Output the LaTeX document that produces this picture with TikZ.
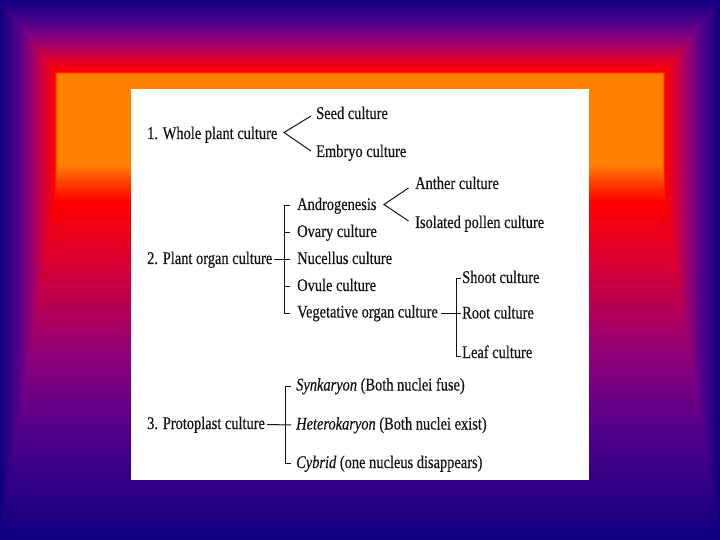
\documentclass[tikz,border=0pt]{standalone}
\usepackage{fontspec}
\setmainfont{Liberation Serif}[FakeStretch=0.81,FakeBold=0.45]
\usetikzlibrary{calc}
\begin{document}
\begin{tikzpicture}[x=1bp,y=-1bp,
  lbl/.style={anchor=base west, inner sep=0pt, text height=9bp, text depth=0pt,
              font=\fontsize{17.8bp}{20bp}\selectfont, text=black!92},
  conn/.style={draw=black!92, line width=1bp}]
\useasboundingbox (0,0) rectangle (720,540);
% ---- background: rectangular gradient ----
\foreach \i in {0,...,90}{
  \pgfmathsetmacro{\s}{\i/90}
  \pgfmathtruncatemacro{\rr}{\s<0.33 ? 15+70*\s/0.33 : (\s<0.55 ? 85+60*(\s-0.33)/0.22 : (\s<0.8 ? 145+70*(\s-0.55)/0.25 : 215+40*(\s-0.8)/0.2))}
  \pgfmathtruncatemacro{\bb}{\s<0.33 ? 128+12*\s/0.33 : (\s<0.55 ? 140-20*(\s-0.33)/0.22 : (\s<0.8 ? 120-65*(\s-0.55)/0.25 : max(0,55-55*(\s-0.8)/0.2)))}
  \definecolor{gc}{RGB}{\rr,0,\bb}
  \fill[gc] (55*\s,72*\s) rectangle (720-55*\s,540-337*\s);
}
\foreach \j in {0,...,24}{
  \pgfmathsetmacro{\u}{\j/24}
  \pgfmathtruncatemacro{\gg}{128*\u}
  \definecolor{ic}{RGB}{255,\gg,0}
  \fill[ic] (55+2*\u,72+2*\u) rectangle (665-2*\u,203-38*\u);
}
\fill[white] (131,89) rectangle (589,480);
% ---- section 1 ----
\node[lbl] (whole)  at (147,139) {1. Whole plant culture};
\node[lbl] (seed)   at (316,119) {Seed culture};
\node[lbl] (embryo) at (316,157) {Embryo culture};
% ---- section 2 ----
\node[lbl] (plant)  at (147,264) {2. Plant organ culture};
\node[lbl] (andro)  at (297,210) {Androgenesis};
\node[lbl] (ovary)  at (297,237) {Ovary culture};
\node[lbl] (nuc)    at (297,264) {Nucellus culture};
\node[lbl] (ovule)  at (297,291) {Ovule culture};
\node[lbl] (veg)    at (297,317.5) {Vegetative organ culture};
\node[lbl] (anther) at (415,189) {Anther culture};
\node[lbl] (pollen) at (415,228) {Isolated pollen culture};
\node[lbl] (shoot)  at (462,283) {Shoot culture};
\node[lbl] (root)   at (462,318.5) {Root culture};
\node[lbl] (leaf)   at (462,358) {Leaf culture};
% ---- section 3 ----
\node[lbl] (proto)  at (147,429) {3. Protoplast culture};
\node[lbl] (syn)    at (296,390.5) {\itshape Synkaryon\/ \upshape(Both nuclei fuse)};
\node[lbl] (het)    at (296,429.5) {\itshape Heterokaryon\/ \upshape(Both nuclei exist)};
\node[lbl] (cyb)    at (296,468) {\itshape Cybrid\/ \upshape(one nucleus disappears)};
% ---- connectors ----
\draw[conn] ([xshift=-5bp,yshift=-1.5bp]seed.west)
   -- ($(seed.west |- whole.east)+(-32bp,2bp)$)
   -- ([xshift=-5bp,yshift=1.5bp]embryo.west);
\draw[conn] ([xshift=-7bp]andro.west) -| ([xshift=-12.5bp]veg.west) -- ([xshift=-7bp]veg.west);
\draw[conn] ([xshift=-12.5bp]ovary.west) -- ([xshift=-7bp]ovary.west);
\draw[conn] ([xshift=-12.5bp]ovule.west) -- ([xshift=-7bp]ovule.west);
\draw[conn] ([xshift=2bp]plant.east) -- ([xshift=-7bp]nuc.west);
\draw[conn] ([xshift=-6.5bp,yshift=-3.5bp]anther.west)
   -- ($(anther.west |- andro.east)+(-31bp,1bp)$)
   -- ([xshift=-6.5bp,yshift=2.5bp]pollen.west);
\draw[conn] ([xshift=-1bp]shoot.west) -| ([xshift=-6bp,yshift=-3bp]leaf.west) -- ([xshift=-1bp,yshift=-3bp]leaf.west);
\draw[conn] ([xshift=3bp]veg.east) -- ([xshift=-1bp]root.west |- veg.east);
\draw[conn] ([xshift=-5bp]syn.west) -| ([xshift=-10.5bp]cyb.west) -- ([xshift=-5bp]cyb.west);
\draw[conn] ([xshift=2bp]proto.east) -- ([xshift=-5bp]het.west);
\end{tikzpicture}
\end{document}
